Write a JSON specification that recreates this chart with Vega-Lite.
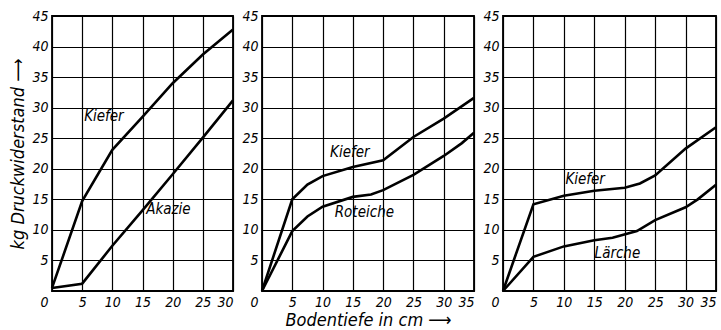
{
  "$schema": "https://vega.github.io/schema/vega-lite/v6.json",
  "autosize": {"type": "pad"},
  "padding": {"left": 9, "top": 8, "right": 2, "bottom": 2},
  "spacing": 1,
  "background": "white",
  "config": {
    "view": {"stroke": "black", "strokeWidth": 1.8},
    "axis": {
      "grid": true, "gridColor": "black", "gridOpacity": 1, "gridWidth": 1.2,
      "domain": false, "ticks": false, "labelOverlap": false, "tickCount": 30,
      "labelFont": "DejaVu Sans Condensed", "labelFontStyle": "italic", "labelFontSize": 14, "labelColor": "black",
      "titleFont": "DejaVu Sans Condensed", "titleFontStyle": "italic", "titleFontWeight": "normal", "titleFontSize": 18, "titleColor": "black"
    },
    "line": {"color": "black", "strokeWidth": 2.6},
    "text": {"font": "DejaVu Sans Condensed", "fontStyle": "italic", "fontSize": 15, "color": "black"}
  },
  "datasets": {
    "lines": [
      {"panel": 1, "wood": "Kiefer", "depth": 0, "kg": 0.5},
      {"panel": 1, "wood": "Kiefer", "depth": 5, "kg": 14.7},
      {"panel": 1, "wood": "Kiefer", "depth": 10, "kg": 23.1},
      {"panel": 1, "wood": "Kiefer", "depth": 15, "kg": 28.5},
      {"panel": 1, "wood": "Kiefer", "depth": 20, "kg": 34},
      {"panel": 1, "wood": "Kiefer", "depth": 25, "kg": 38.7},
      {"panel": 1, "wood": "Kiefer", "depth": 30, "kg": 42.8},
      {"panel": 1, "wood": "Akazie", "depth": 0, "kg": 0.5},
      {"panel": 1, "wood": "Akazie", "depth": 5, "kg": 1.2},
      {"panel": 1, "wood": "Akazie", "depth": 10, "kg": 7.4},
      {"panel": 1, "wood": "Akazie", "depth": 15, "kg": 13.2},
      {"panel": 1, "wood": "Akazie", "depth": 20, "kg": 19.1},
      {"panel": 1, "wood": "Akazie", "depth": 25, "kg": 25.1},
      {"panel": 1, "wood": "Akazie", "depth": 30, "kg": 31.2},
      {"panel": 2, "wood": "Kiefer", "depth": 0, "kg": 0},
      {"panel": 2, "wood": "Kiefer", "depth": 5, "kg": 15},
      {"panel": 2, "wood": "Kiefer", "depth": 7.5, "kg": 17.4},
      {"panel": 2, "wood": "Kiefer", "depth": 10, "kg": 18.8},
      {"panel": 2, "wood": "Kiefer", "depth": 15, "kg": 20.3},
      {"panel": 2, "wood": "Kiefer", "depth": 20, "kg": 21.4},
      {"panel": 2, "wood": "Kiefer", "depth": 25, "kg": 25.2},
      {"panel": 2, "wood": "Kiefer", "depth": 30, "kg": 28.2},
      {"panel": 2, "wood": "Kiefer", "depth": 35, "kg": 31.6},
      {"panel": 2, "wood": "Roteiche", "depth": 0, "kg": 0},
      {"panel": 2, "wood": "Roteiche", "depth": 5, "kg": 9.8},
      {"panel": 2, "wood": "Roteiche", "depth": 7.5, "kg": 12.2},
      {"panel": 2, "wood": "Roteiche", "depth": 10, "kg": 13.8},
      {"panel": 2, "wood": "Roteiche", "depth": 15, "kg": 15.4},
      {"panel": 2, "wood": "Roteiche", "depth": 18, "kg": 15.8},
      {"panel": 2, "wood": "Roteiche", "depth": 20, "kg": 16.5},
      {"panel": 2, "wood": "Roteiche", "depth": 25, "kg": 19},
      {"panel": 2, "wood": "Roteiche", "depth": 30, "kg": 22.1},
      {"panel": 2, "wood": "Roteiche", "depth": 33, "kg": 24.2},
      {"panel": 2, "wood": "Roteiche", "depth": 35, "kg": 25.9},
      {"panel": 3, "wood": "Kiefer", "depth": 0, "kg": 0},
      {"panel": 3, "wood": "Kiefer", "depth": 5, "kg": 14.2},
      {"panel": 3, "wood": "Kiefer", "depth": 10, "kg": 15.6},
      {"panel": 3, "wood": "Kiefer", "depth": 15, "kg": 16.4},
      {"panel": 3, "wood": "Kiefer", "depth": 20, "kg": 16.9},
      {"panel": 3, "wood": "Kiefer", "depth": 22.5, "kg": 17.6},
      {"panel": 3, "wood": "Kiefer", "depth": 25, "kg": 18.9},
      {"panel": 3, "wood": "Kiefer", "depth": 30, "kg": 23.3},
      {"panel": 3, "wood": "Kiefer", "depth": 35, "kg": 26.8},
      {"panel": 3, "wood": "Lärche", "depth": 0, "kg": 0},
      {"panel": 3, "wood": "Lärche", "depth": 5, "kg": 5.6},
      {"panel": 3, "wood": "Lärche", "depth": 10, "kg": 7.3},
      {"panel": 3, "wood": "Lärche", "depth": 15, "kg": 8.3},
      {"panel": 3, "wood": "Lärche", "depth": 18, "kg": 8.7},
      {"panel": 3, "wood": "Lärche", "depth": 22, "kg": 9.8},
      {"panel": 3, "wood": "Lärche", "depth": 25, "kg": 11.6},
      {"panel": 3, "wood": "Lärche", "depth": 30, "kg": 13.7},
      {"panel": 3, "wood": "Lärche", "depth": 32, "kg": 15},
      {"panel": 3, "wood": "Lärche", "depth": 35, "kg": 17.4}
    ],
    "labels": [
      {"panel": 1, "name": "Kiefer", "depth": 8.6, "kg": 28.6},
      {"panel": 1, "name": "Akazie", "depth": 19.3, "kg": 13.5},
      {"panel": 2, "name": "Kiefer", "depth": 14.5, "kg": 22.8},
      {"panel": 2, "name": "Roteiche", "depth": 16.9, "kg": 13},
      {"panel": 3, "name": "Kiefer", "depth": 13.5, "kg": 18.3},
      {"panel": 3, "name": "Lärche", "depth": 18.8, "kg": 6.3}
    ]
  },
  "hconcat": [
    {
      "width": 181, "height": 275,
      "layer": [
        {
          "data": {"name": "lines"},
          "transform": [{"filter": "datum.panel == 1"}],
          "mark": "line",
          "encoding": {
            "x": {"field": "depth", "type": "quantitative", "scale": {"domain": [0, 30], "nice": false},
                  "axis": {"values": [0, 5, 10, 15, 20, 25, 30], "title": null, "labelPadding": 4,
                           "labelAlign": {"expr": "datum.value == 0 || datum.value == 30 ? 'right' : 'center'"},
                           "labelOffset": {"condition": {"test": "datum.value == 0", "value": -4}, "value": 0}}},
            "y": {"field": "kg", "type": "quantitative", "scale": {"domain": [0, 45], "nice": false},
                  "axis": {"values": [5, 10, 15, 20, 25, 30, 35, 40, 45], "title": "kg Druckwiderstand ⟶", "labelPadding": 4, "titlePadding": 4}},
            "detail": {"field": "wood"}
          }
        },
        {
          "data": {"name": "labels"},
          "transform": [{"filter": "datum.panel == 1"}],
          "mark": {"type": "text"},
          "encoding": {
            "x": {"field": "depth", "type": "quantitative"},
            "y": {"field": "kg", "type": "quantitative"},
            "text": {"field": "name"}
          }
        }
      ]
    },
    {
      "width": 212, "height": 275,
      "layer": [
        {
          "data": {"name": "lines"},
          "transform": [{"filter": "datum.panel == 2"}],
          "mark": "line",
          "encoding": {
            "x": {"field": "depth", "type": "quantitative", "scale": {"domain": [0, 35], "nice": false},
                  "axis": {"values": [0, 5, 10, 15, 20, 25, 30, 35], "title": "Bodentiefe in cm ⟶", "labelPadding": 4, "titlePadding": 2,
                           "labelAlign": {"expr": "datum.value == 0 || datum.value == 35 ? 'right' : 'center'"},
                           "labelOffset": {"condition": {"test": "datum.value == 0", "value": -4}, "value": 0}}},
            "y": {"field": "kg", "type": "quantitative", "scale": {"domain": [0, 45], "nice": false},
                  "axis": {"values": [5, 10, 15, 20, 25, 30, 35, 40, 45], "title": null, "labelPadding": 4}},
            "detail": {"field": "wood"}
          }
        },
        {
          "data": {"name": "labels"},
          "transform": [{"filter": "datum.panel == 2"}],
          "mark": {"type": "text"},
          "encoding": {
            "x": {"field": "depth", "type": "quantitative"},
            "y": {"field": "kg", "type": "quantitative"},
            "text": {"field": "name"}
          }
        }
      ]
    },
    {
      "width": 213, "height": 275,
      "layer": [
        {
          "data": {"name": "lines"},
          "transform": [{"filter": "datum.panel == 3"}],
          "mark": "line",
          "encoding": {
            "x": {"field": "depth", "type": "quantitative", "scale": {"domain": [0, 35], "nice": false},
                  "axis": {"values": [0, 5, 10, 15, 20, 25, 30, 35], "title": null, "labelPadding": 4,
                           "labelAlign": {"expr": "datum.value == 0 || datum.value == 35 ? 'right' : 'center'"},
                           "labelOffset": {"condition": {"test": "datum.value == 0", "value": -4}, "value": 0}}},
            "y": {"field": "kg", "type": "quantitative", "scale": {"domain": [0, 45], "nice": false},
                  "axis": {"values": [5, 10, 15, 20, 25, 30, 35, 40, 45], "title": null, "labelPadding": 4}},
            "detail": {"field": "wood"}
          }
        },
        {
          "data": {"name": "labels"},
          "transform": [{"filter": "datum.panel == 3"}],
          "mark": {"type": "text"},
          "encoding": {
            "x": {"field": "depth", "type": "quantitative"},
            "y": {"field": "kg", "type": "quantitative"},
            "text": {"field": "name"}
          }
        }
      ]
    }
  ]
}
